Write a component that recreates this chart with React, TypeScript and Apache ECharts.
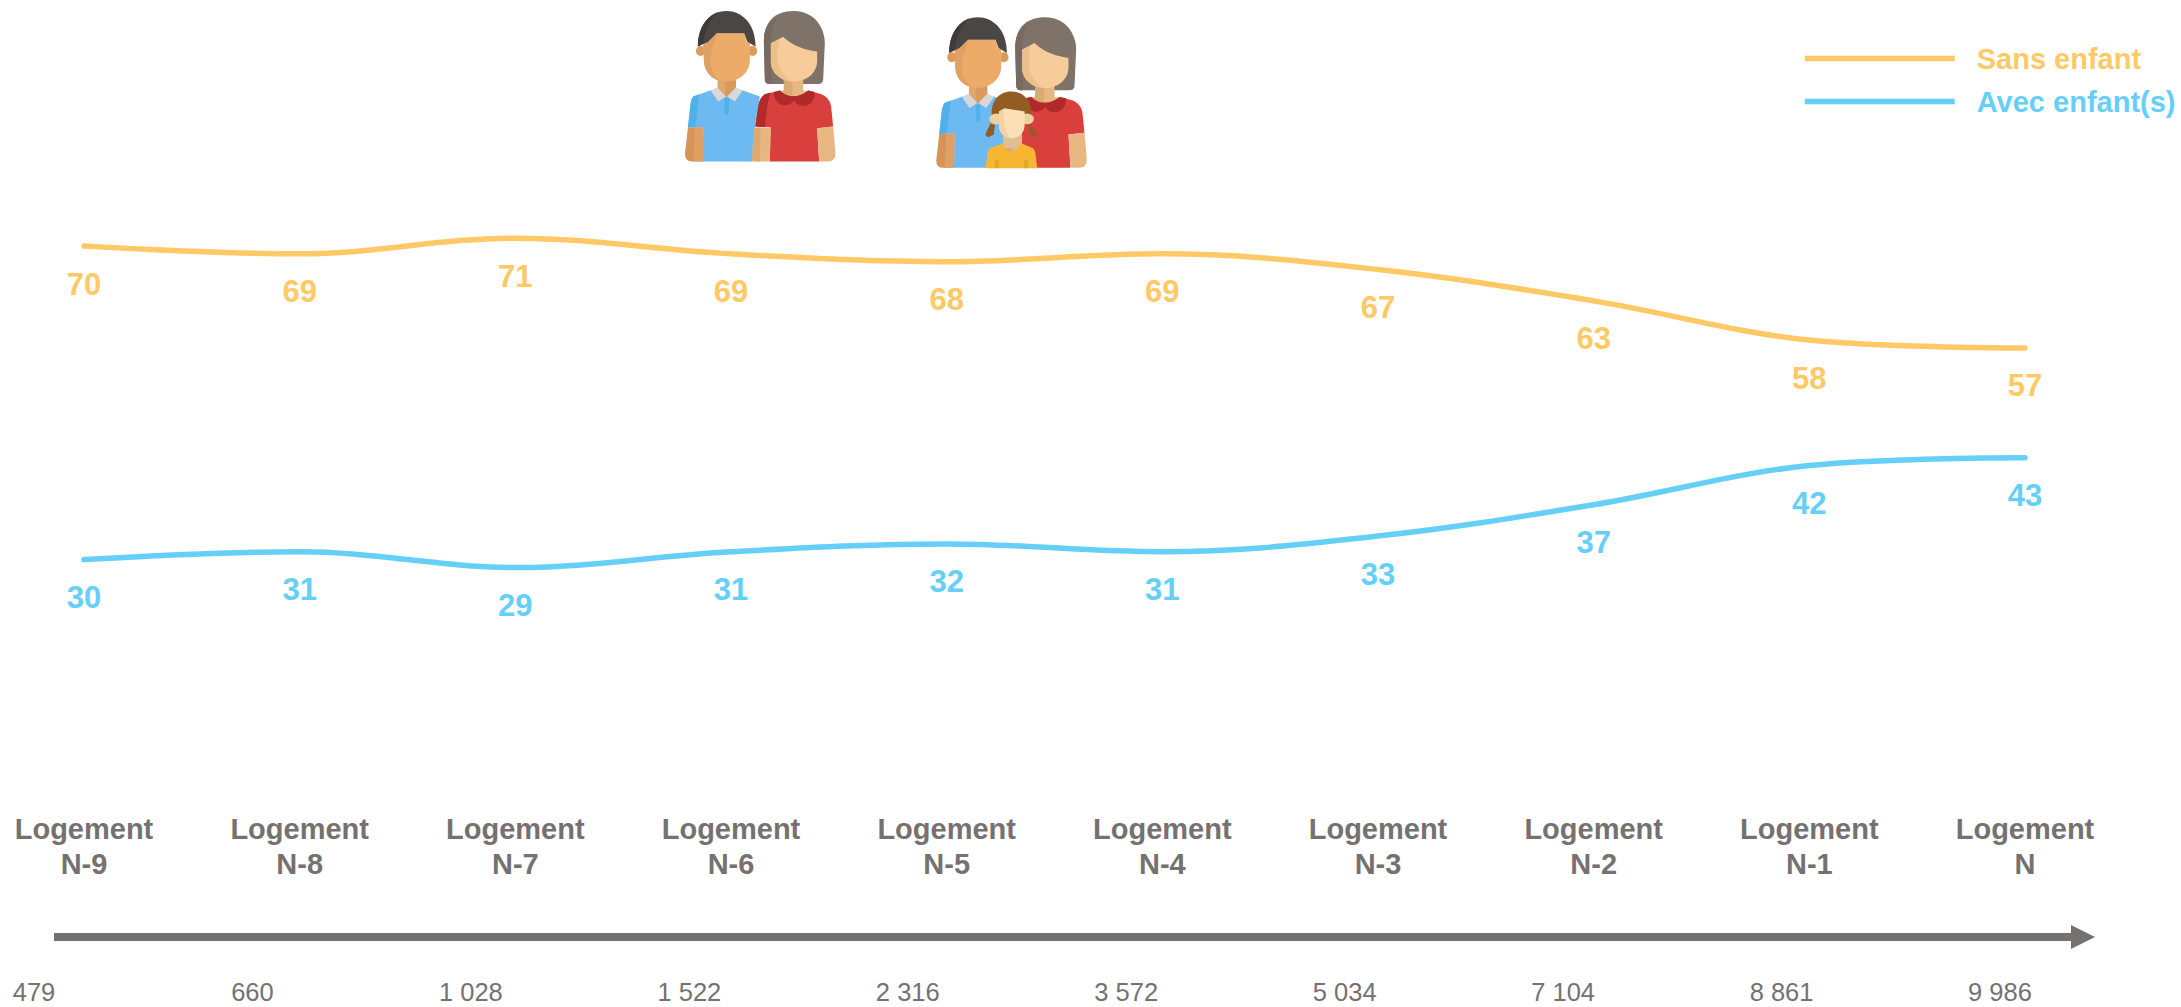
import React, { useEffect, useRef } from "react";
import * as echarts from "echarts";

const categories = ["N-9", "N-8", "N-7", "N-6", "N-5", "N-4", "N-3", "N-2", "N-1", "N"];
const sansEnfant = [70, 69, 71, 69, 68, 69, 67, 63, 58, 57];
const avecEnfant = [30, 31, 29, 31, 32, 31, 33, 37, 42, 43];
const counts = ["479", "660", "1 028", "1 522", "2 316", "3 572", "5 034", "7 104", "8 861", "9 986"];

const FONT = "'Liberation Sans', Arial, sans-serif";
const ORANGE = "#FFC966";
const BLUE = "#66CFF8";
const GREY = "#767171";

// Illustration parts, drawn in a 3x space (origin = crop at 640,0 of the page)
const ADULTS: [string, string][] = [
  // woman hair
  ["M372 125C372 70 400 33 462 33C525 33 555 85 555 130L550 240Q548 252 535 252L388 252Q376 252 375 240Z", "#7f7268"],
  ["M372 125C372 85 385 65 410 55C398 75 393 100 393 130L395 252L388 252Q376 252 375 240Z", "#776a60"],
  // man arm behind
  ["M330 383L362 383L362 485L330 485Z", "#e2ac6f"],
  // man shirt
  ["M160 290L215 270L305 270L360 290L345 380L335 485L188 485L190 383L144 383L152 310Q155 295 160 290Z", "#6db9f2"],
  ["M160 290L178 283L166 383L144 383L152 310Q155 295 160 290Z", "#4fb0ea"],
  // man neck
  ["M233 225L288 225L288 270L260 292L233 270Z", "#e0a86a"],
  ["M255 240L288 240L288 270L260 292L255 288Z", "#d89a5f"],
  // collar
  ["M232 262L258 290L235 305L212 272Z", "#d8d8d8"],
  ["M288 262L262 290L285 305L308 272Z", "#d8d8d8"],
  ["M254 295L267 295L267 338Q267 345 260 345Q254 345 254 338Z", "#4fb0ea"],
  // man arm
  ["M144 383L190 383L188 485L155 485Q135 485 135 462Z", "#d89358"],
  ["M165 383L190 383L188 485L160 485Z", "#dda066"],
  // man ears
  ["M182 138A14 15 0 1 0 182 168A14 15 0 1 0 182 138Z", "#dc9a5c"],
  ["M338 138A14 15 0 1 0 338 168A14 15 0 1 0 338 138Z", "#dc9a5c"],
  // man face
  ["M190 130L205 125L230 100L313 100L320 125L330 130L330 180C330 220 295 245 260 245C225 245 192 220 192 180Z", "#ecab69"],
  ["M190 130L205 125L230 100C225 130 212 150 212 180C212 210 225 235 245 243C215 240 192 215 192 180Z", "#e0a264"],
  // man hair
  ["M174 140C174 70 215 33 260 33C305 33 347 70 347 140L322 125L313 100L230 100L205 125Z", "#4a4644"],
  ["M174 140C174 85 200 48 235 36C210 55 195 90 190 130Z", "#3e3a38"],
  // woman neck
  ["M432 225L490 225L490 272L512 275C490 298 440 298 415 275L432 272Z", "#e8b680"],
  ["M432 235L458 240L458 295C445 293 425 285 415 275L432 272Z", "#dba973"],
  // woman dress
  ["M375 283L420 272C440 295 480 295 505 272L545 283C562 290 572 305 574 320L580 380L532 385L538 485L390 485L392 382L346 380L355 320C358 300 365 290 375 283Z", "#d83f3d"],
  ["M375 283L392 278C382 310 378 345 375 382L346 380L355 320C358 300 365 290 375 283Z", "#b22a2a"],
  ["M402 276L420 272C440 295 480 295 505 272L525 276C525 322 480 330 462 302C440 330 402 315 402 276Z", "#b02a2b"],
  // woman arms
  ["M532 385L580 380L587 460Q587 485 565 485L538 485Z", "#e8b680"],
  ["M344 385L392 382L390 485L360 485Q337 485 337 460Z", "#e8b680"],
  ["M344 385L362 384L360 485Q337 485 337 460Z", "#dba973"],
  // woman face
  ["M393 130L430 110C460 140 500 150 532 155L532 185C530 225 495 245 462 245C425 245 393 220 393 185Z", "#f6cd9a"],
  ["M393 130L418 118C412 145 412 170 415 190C420 215 440 238 458 245C425 245 393 220 393 185Z", "#ecc08a"],
];

const CHILD: [string, string][] = [
  ["M1052 370L1037 405L1045 412L1062 405L1066 375Z", "#925c22"],
  ["M1168 370L1194 405L1175 412L1165 375Z", "#925c22"],
  ["M1090 405L1140 405L1140 445L1090 445Z", "#e2bf92"],
  ["M1050 445L1090 430C1100 465 1130 465 1145 430L1180 445Q1186 450 1188 465L1193 505L1038 505L1043 465Q1045 450 1050 445Z", "#f7b733"],
  ["M1065 480L1078 480L1078 505L1065 505Z", "#e8a52a"],
  ["M1153 480L1167 480L1167 505L1153 505Z", "#e8a52a"],
  ["M1056 340C1056 295 1085 275 1115 275C1150 275 1176 300 1176 345L1056 345Z", "#925c22"],
  ["M1070 341A21 16 0 1 0 1070 373A21 16 0 1 0 1070 341Z", "#f0cfa0"],
  ["M1162 341A21 16 0 1 0 1162 373A21 16 0 1 0 1162 341Z", "#f0cfa0"],
  ["M1078 335L1095 325L1155 335L1155 375C1155 400 1135 415 1115 415C1095 415 1078 400 1078 375Z", "#fbe0b8"],
  ["M1078 335L1095 325C1090 350 1092 390 1113 415C1095 415 1078 400 1078 375Z", "#f3d3a6"],
];

let registered = false;
function registerIcons() {
  if (registered) return;
  registered = true;
  ADULTS.forEach(([d], i) => echarts.graphic.registerShape("adult" + i, echarts.graphic.extendPath(d, {})));
  CHILD.forEach(([d], i) => echarts.graphic.registerShape("child" + i, echarts.graphic.extendPath(d, {})));
}

function iconParts(prefix: string, parts: [string, string][], x: number, y: number) {
  return parts.map(([, fill], i) => ({
    type: prefix + i,
    x,
    y,
    scaleX: 1 / 3,
    scaleY: 1 / 3,
    silent: true,
    style: { fill, stroke: null },
  }));
}

export default function App() {
  const ref = useRef<HTMLDivElement>(null);
  useEffect(() => {
    document.body.style.margin = "0";
    registerIcons();
    const chart = echarts.init(ref.current!, null, { renderer: "svg" });
    const seriesBase = {
      type: "line",
      smooth: 0.36,
      symbol: "circle",
      symbolSize: 1,
      xAxisIndex: 0,
      yAxisIndex: 0,
      itemStyle: { color: "transparent", borderWidth: 0 },
      lineStyle: { width: 5.5, cap: "round" },
    };
    const label = (color: string) => ({
      show: true,
      position: "bottom",
      distance: 22,
      color,
      fontFamily: FONT,
      fontWeight: "bold",
      fontSize: 31,
    });
    const legendText = (color: string) => ({
      color,
      fontFamily: FONT,
      fontWeight: "bold",
      fontSize: 29,
      padding: [0, 0, 0, 17],
    });
    chart.setOption({
      animation: false,
      backgroundColor: "#ffffff",
      grid: [
        { left: 84, width: 1941, top: 10.8, height: 784 },
        { left: 34, width: 1966, top: 900, height: 75 },
      ],
      xAxis: [
        {
          gridIndex: 0,
          type: "category",
          boundaryGap: false,
          data: categories,
          axisLine: { show: false },
          axisTick: { show: false },
          axisLabel: {
            interval: 0,
            margin: 17,
            color: GREY,
            fontFamily: FONT,
            fontWeight: "bold",
            fontSize: 29,
            lineHeight: 35,
            formatter: (v: string) => "Logement\n" + v,
          },
        },
        {
          gridIndex: 1,
          type: "category",
          boundaryGap: false,
          data: counts,
          axisLine: { show: false },
          axisTick: { show: false },
          axisLabel: {
            interval: 0,
            margin: 6,
            color: GREY,
            fontFamily: FONT,
            fontSize: 25.5,
            lineHeight: 22,
          },
        },
      ],
      yAxis: [
        { gridIndex: 0, type: "value", min: 0, max: 100, show: false },
        { gridIndex: 1, type: "value", min: 0, max: 1, show: false },
      ],
      legend: {
        orient: "vertical",
        left: 1802,
        top: 44,
        padding: 0,
        itemWidth: 150,
        itemHeight: 30,
        itemGap: 14,
        selectedMode: false,
        lineStyle: { width: 5.5, cap: "butt" },
        data: [
          { name: "Sans enfant", textStyle: legendText(ORANGE) },
          { name: "Avec enfant(s)", textStyle: legendText(BLUE) },
        ],
      },
      series: [
        { ...seriesBase, name: "Sans enfant", data: sansEnfant, color: ORANGE, lineStyle: { ...seriesBase.lineStyle, color: ORANGE }, label: label(ORANGE) },
        { ...seriesBase, name: "Avec enfant(s)", data: avecEnfant, color: BLUE, lineStyle: { ...seriesBase.lineStyle, color: BLUE }, label: label(BLUE) },
      ],
      graphic: [
        { type: "rect", shape: { x: 54, y: 933, width: 2020, height: 8 }, style: { fill: GREY }, silent: true },
        { type: "polygon", shape: { points: [[2071, 925], [2095, 937], [2071, 949]] }, style: { fill: GREY }, silent: true },
        ...iconParts("adult", ADULTS, 640, 0),
        ...iconParts("adult", ADULTS, 640 + 754 / 3, 19 / 3),
        ...iconParts("child", CHILD, 640, 0),
      ],
    });
    return () => chart.dispose();
  }, []);
  return <div ref={ref} style={{ width: 2181, height: 1007, position: "absolute", left: 0, top: 0 }} />;
}
